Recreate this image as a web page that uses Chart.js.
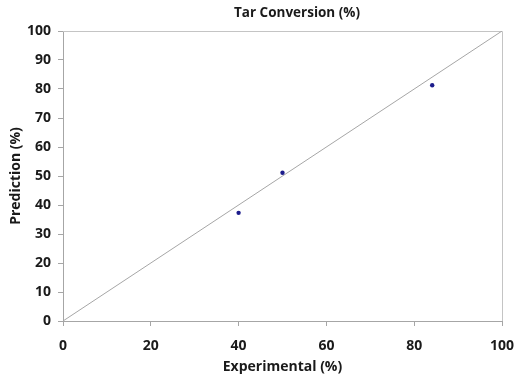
<!DOCTYPE html>
<html>
<head>
<meta charset="utf-8">
<script src="https://cdn.jsdelivr.net/npm/chart.js@4/dist/chart.umd.min.js"></script>
<style>
  html, body { margin: 0; padding: 0; background: #ffffff; }
  #wrap { width: 517px; height: 377px; position: relative; }
</style>
</head>
<body>
<div id="wrap"><canvas id="c"></canvas></div>
<script>
// Measured vs. predicted tar conversion (%)
const experimental = [40, 50, 84.1];
const prediction = [37.3, 51.1, 81.3];

// y = x reference line
const parityX = [0, 100];
const parityY = [0, 100];

const xTicks = [0, 20, 40, 60, 80, 100];
const yTicks = [0, 10, 20, 30, 40, 50, 60, 70, 80, 90, 100];

const chartTitle = 'Tar Conversion (%)';
const xTitle = 'Experimental (%)';
const yTitle = 'Prediction (%)';

const FONT = '"Open Sans", Lato, sans-serif';
const AXIS = '#a6a6a6';
const TEXT = '#1a1a1a';

const points = experimental.map((x, i) => ({ x, y: prediction[i] }));
const parity = parityX.map((x, i) => ({ x, y: parityY[i] }));

// frame around the plot area plus the chart title
const framePlugin = {
  id: 'frame',
  beforeDatasetsDraw(chart) {
    const { ctx, chartArea: a } = chart;
    ctx.save();
    ctx.strokeStyle = '#c4c4c4';
    ctx.lineWidth = 1;
    ctx.beginPath();
    ctx.moveTo(a.left, a.top + 0.5);
    ctx.lineTo(a.right + 0.5, a.top + 0.5);
    ctx.lineTo(a.right + 0.5, a.bottom);
    ctx.stroke();
    ctx.restore();
  },
  afterDraw(chart) {
    const { ctx } = chart;
    ctx.save();
    ctx.font = 'bold 13.5px ' + FONT;
    ctx.fillStyle = TEXT;
    ctx.textAlign = 'center';
    ctx.textBaseline = 'middle';
    ctx.fillText(chartTitle, 297, 13);
    ctx.restore();
  }
};

new Chart(document.getElementById('c'), {
  type: 'scatter',
  data: {
    datasets: [
      {
        type: 'line',
        data: parity,
        borderColor: '#a6a6a6',
        borderWidth: 1,
        pointRadius: 0,
        fill: false,
        order: 2
      },
      {
        data: points,
        backgroundColor: '#1c1c8c',
        borderColor: '#1c1c8c',
        pointRadius: 2.2,
        pointBorderWidth: 0,
        order: 1
      }
    ]
  },
  options: {
    responsive: true,
    maintainAspectRatio: false,
    animation: false,
    layout: { padding: { top: 31, right: 15, left: 0, bottom: 0 } },
    plugins: {
      legend: { display: false },
      title: { display: false },
      tooltip: { enabled: false }
    },
    scales: {
      x: {
        type: 'linear',
        min: 0,
        max: 100,
        afterFit(s) {
          s.height = 56;
          s.paddingLeft = 0;
          s.paddingRight = 0;
        },
        afterBuildTicks(s) { s.ticks = xTicks.map(v => ({ value: v })); },
        grid: { drawOnChartArea: false, tickLength: 5, color: AXIS },
        border: { color: AXIS, width: 1 },
        ticks: {
          padding: 12,
          color: TEXT,
          font: { family: FONT, size: 14, weight: 'bold' },
          maxRotation: 0
        },
        title: {
          display: true,
          text: xTitle,
          color: TEXT,
          font: { family: FONT, size: 14, weight: 'bold' },
          padding: { top: 0, bottom: 2 }
        }
      },
      y: {
        type: 'linear',
        min: 0,
        max: 100,
        afterFit(s) {
          s.width = 63;
          s.paddingTop = 0;
          s.paddingBottom = 0;
        },
        afterBuildTicks(s) { s.ticks = yTicks.map(v => ({ value: v })); },
        grid: { drawOnChartArea: false, tickLength: 5, color: AXIS },
        border: { color: AXIS, width: 1 },
        ticks: {
          padding: 7,
          color: TEXT,
          font: { family: FONT, size: 14, weight: 'bold' }
        },
        title: {
          display: true,
          text: yTitle,
          color: TEXT,
          font: { family: FONT, size: 14, weight: 'bold' },
          padding: { top: 8, bottom: 0 }
        }
      }
    }
  },
  plugins: [framePlugin]
});
</script>
</body>
</html>
